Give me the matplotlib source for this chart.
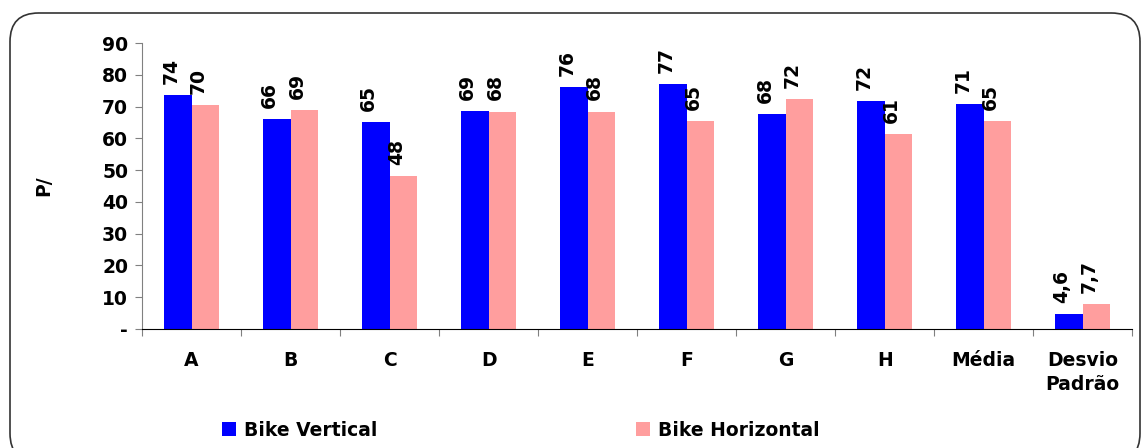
import numpy as np
import matplotlib.pyplot as plt
from matplotlib.patches import FancyBboxPatch

plt.rcParams["font.family"] = ["DejaVu Sans"]
plt.rcParams["font.weight"] = "bold"

categorias = ["A", "B", "C", "D", "E", "F", "G", "H", "Média", "Desvio\nPadrão"]
bike_vertical = [73.7, 66.1, 65.1, 68.6, 76.0, 77.0, 67.6, 71.8, 70.9, 4.6]
bike_horizontal = [70.4, 68.8, 48.1, 68.4, 68.4, 65.4, 72.4, 61.4, 65.4, 7.7]
yticks = [0, 10, 20, 30, 40, 50, 60, 70, 80, 90]
ytick_labels = ["-", "10", "20", "30", "40", "50", "60", "70", "80", "90"]

azul = "#0000FF"
rosa = "#FF9E9E"
fs = 13.5

fig = plt.figure(figsize=(11.46, 4.48), dpi=100)
ax = fig.add_axes([0.124, 0.266, 0.864, 0.638])

x = np.arange(len(categorias))
w = 0.28
ax.bar(x - w / 2, bike_vertical, w, color=azul, label="Bike Vertical")
ax.bar(x + w / 2, bike_horizontal, w, color=rosa, label="Bike Horizontal")


def rotulo(v, ultimo):
    if ultimo:
        return f"{v:.1f}".replace(".", ",")
    return f"{v:.0f}"


n = len(categorias)
for i in range(n):
    for dx, vals in ((-w / 2, bike_vertical), (w / 2, bike_horizontal)):
        ax.annotate(rotulo(vals[i], i == n - 1), (x[i] + dx, vals[i]),
                    xytext=(-5, 8), textcoords="offset points",
                    rotation=90, ha="center", va="bottom",
                    fontsize=fs, fontweight="bold")

ax.set_xlim(-0.5, n - 0.5)
ax.set_ylim(0, 90)
ax.set_yticks(yticks)
ax.set_yticklabels(ytick_labels, fontsize=fs, fontweight="bold")
ax.tick_params(axis="y", length=5, pad=5, color="#808080")

# category ticks sit between the groups, labels in the middle
ax.set_xticks(np.arange(-0.5, n, 1.0))
ax.set_xticklabels([])
ax.set_xticks(x, minor=True)
ax.set_xticklabels(categorias, minor=True, fontsize=fs, fontweight="bold",
                   va="top", linespacing=1.35)
ax.tick_params(axis="x", which="major", length=5, direction="out", color="#808080")
ax.tick_params(axis="x", which="minor", length=0, pad=16)

for s in ("top", "right"):
    ax.spines[s].set_visible(False)
ax.spines["left"].set_color("#808080")
ax.spines["bottom"].set_color("black")

ax.set_ylabel("P/", fontsize=fs, fontweight="bold")
ax.yaxis.set_label_coords(-0.09, 0.5)

fig.legend(loc="center left", bbox_to_anchor=(0.1875, 0.04), ncol=2,
           frameon=False, fontsize=fs, handlelength=0.75, handleheight=0.75,
           handletextpad=0.4, columnspacing=13.8, borderaxespad=0)

moldura = FancyBboxPatch((10 / 1146, -14 / 448), 1130 / 1146, 449 / 448,
                         boxstyle="round,pad=0,rounding_size=0.025",
                         transform=fig.transFigure, fill=False,
                         edgecolor="#333333", linewidth=1.2,
                         mutation_aspect=1146 / 448)
fig.patches.append(moldura)

fig.savefig("out.png", dpi=100)
